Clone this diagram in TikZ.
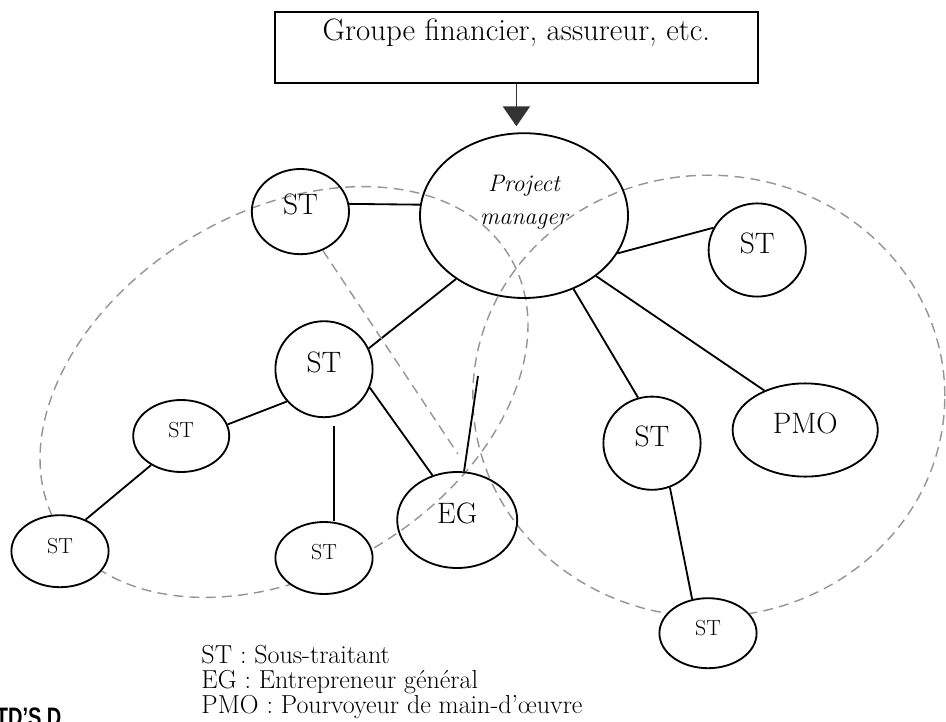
\documentclass[tikz,border=0pt]{standalone}
\usepackage{fontspec}
\setsansfont{Liberation Sans}
\usetikzlibrary{shapes.geometric, arrows.meta}

\begin{document}
\begin{tikzpicture}[
        ent/.style={ellipse, draw, line width=1.3pt, inner sep=0pt},
        big/.style={font=\fontsize{21}{24}\selectfont, text depth=10pt},
        small/.style={font=\fontsize{15.5}{18}\selectfont, text depth=8pt},
        cover/.style={fill=white},
        pmtxt/.style={align=center, yshift=0.33cm, font=\itshape\fontsize{17}{23}\selectfont},
        link/.style={line width=1.3pt},
        zone/.style={draw=black!42, line width=1pt, dash pattern=on 7pt off 4.5pt}
    ]
        \useasboundingbox (0,0) rectangle (23.65,-18.05);

        % Zones
        \draw[zone, rotate around={31:(7.10,-9.80)}] (7.10, -9.80) ellipse [x radius=6.58, y radius=4.50];
        \draw[zone] (17.72, -9.90) ellipse [x radius=5.90, y radius=5.52];

        % Nodes
        \node[draw, line width=1pt, inner sep=0pt, minimum width=12.08cm, text height=0.70cm, text depth=1.075cm, font=\fontsize{22}{26}\selectfont] at (12.91, -1.19)  (grp)  {Groupe financier, assureur, etc.};
        \node[ent, minimum width=5.20cm, minimum height=4.12cm, label={[pmtxt]center:Project\\manager}] at (13.10, -5.39)  (pm)  {};

        \node[ent, big, minimum width=2.43cm, minimum height=2.13cm] at (7.51, -5.29)  (stA)  {ST};
        \node[ent, big, minimum width=2.43cm, minimum height=2.33cm] at (18.93, -6.25)  (stB)  {ST};
        \node[ent, big, minimum width=2.43cm, minimum height=2.40cm] at (8.10, -9.23)  (stC)  {ST};
        \node[ent, small, minimum width=2.40cm, minimum height=1.80cm] at (4.53, -10.90)  (stD)  {ST};
        \node[ent, small, cover, minimum width=2.43cm, minimum height=1.80cm] at (1.50, -13.78)  (stE)  {ST};
        \node[ent, small, cover, minimum width=2.43cm, minimum height=1.80cm] at (8.10, -13.95)  (stF)  {ST};
        \node[ent, big, minimum width=3.00cm, minimum height=2.40cm] at (11.43, -13.00)  (eg)  {EG};
        \node[ent, big, minimum width=2.43cm, minimum height=2.33cm] at (16.30, -11.08)  (stG)  {ST};
        \node[ent, big, minimum width=3.63cm, minimum height=2.33cm] at (20.13, -10.75)  (pmo)  {PMO};
        \node[ent, small, cover, minimum width=2.43cm, minimum height=1.75cm] at (17.70, -15.83)  (stH)  {ST};

        \coordinate (egEnd) at (11.95, -9.40);

        \node[anchor=north west, align=left, inner sep=0pt, font=\fontsize{18.5}{18}\selectfont] at (5.03, -16.12)  (legend)  {ST : Sous-traitant\\EG : Entrepreneur général\\PMO : Pourvoyeur de main-d’œuvre};
        \node[anchor=north west, inner sep=0pt, xscale=0.75, transform shape, font=\sffamily\bfseries\fontsize{19}{19}\selectfont] at (-0.11, -17.68)  (mark)  {TD'S D};

        % Links
        \draw[line width=1.2pt, draw=black!80, -{Triangle[width=0.68cm, length=0.5cm]}, shorten >=0.15cm] (grp.south) -- (grp.south |- pm.north);

        \draw[link] (stA.9) -- (pm.174);
        \draw[link] (pm.-22) -- (stB.153);
        \draw[link] (pm.223) -- (stC.25);
        \draw[link] (pm.-56) -- (stG.107);
        \draw[link] (pm.-40) -- (pmo.136);

        \draw[link] (stC.221) -- (stD.14);
        \draw[link] (stD.224) -- (stE.51);
        \draw[link, shorten <=0.22cm] (stC.-78) -- (stC.-78 |- stF.north);
        \draw[link] (stC.-22) -- (eg.119);
        \draw[link] (eg.82) -- (egEnd);
        \draw[zone, shorten >=0.55cm] (stA.-60) -- (eg.75);

        \draw[link] (stG.-68) -- (stH.115);
    \end{tikzpicture}
\end{document}
